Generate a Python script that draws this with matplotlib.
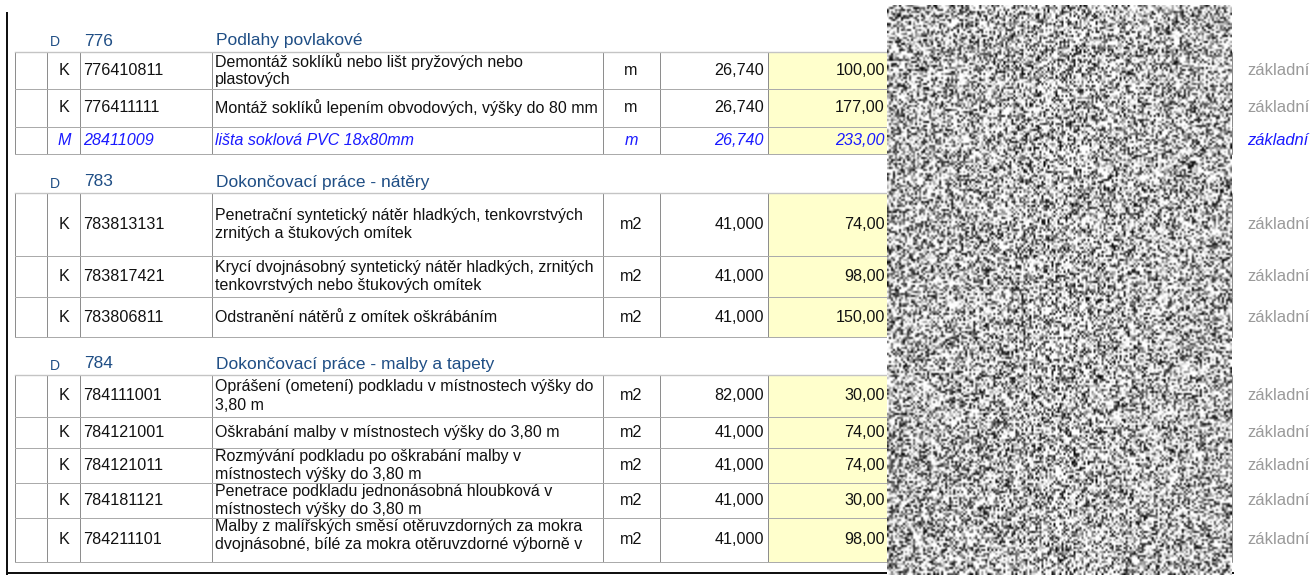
import matplotlib
matplotlib.use("Agg")
import matplotlib.pyplot as plt
import numpy as np
from matplotlib.patches import Rectangle

plt.rcParams["font.family"] = ["Liberation Sans", "DejaVu Sans"]

# ---- data ----
section_codes = ["776", "783", "784"]
section_titles = ["Podlahy povlakové", "Dokončovací práce - nátěry",
                  "Dokončovací práce - malby a tapety"]
row_section = [0, 0, 0, 1, 1, 1, 2, 2, 2, 2, 2]
row_types = ["K", "K", "M", "K", "K", "K", "K", "K", "K", "K", "K"]
row_codes = ["776410811", "776411111", "28411009", "783813131", "783817421",
             "783806811", "784111001", "784121001", "784121011", "784181121",
             "784211101"]
row_descriptions = [
    "Demontáž soklíků nebo lišt pryžových nebo\nplastových",
    "Montáž soklíků lepením obvodových, výšky do 80 mm",
    "lišta soklová PVC 18x80mm",
    "Penetrační syntetický nátěr hladkých, tenkovrstvých\nzrnitých a štukových omítek",
    "Krycí dvojnásobný syntetický nátěr hladkých, zrnitých\ntenkovrstvých nebo štukových omítek",
    "Odstranění nátěrů z omítek oškrábáním",
    "Oprášení (ometení) podkladu v místnostech výšky do\n3,80 m",
    "Oškrabání malby v místnostech výšky do 3,80 m",
    "Rozmývání podkladu po oškrabání malby v\nmístnostech výšky do 3,80 m",
    "Penetrace podkladu jednonásobná hloubková v\nmístnostech výšky do 3,80 m",
    "Malby z malířských směsí otěruvzdorných za mokra\ndvojnásobné, bílé za mokra otěruvzdorné výborně v",
]
row_units = ["m", "m", "m", "m2", "m2", "m2", "m2", "m2", "m2", "m2", "m2"]
row_quantities = [26.740, 26.740, 26.740, 41.0, 41.0, 41.0, 82.0, 41.0, 41.0, 41.0, 41.0]
row_prices = [100, 177, 233, 74, 98, 150, 30, 74, 74, 30, 98]
row_price_level = ["základní"] * 11

# ---- layout (pixels) ----
W, H = 1312, 575
header_y = [41, 182, 364]
row_edges = [(52, 89), (89, 127), (127, 154),
             (193, 256), (256, 297), (297, 337),
             (375, 417), (417, 448), (448, 483), (483, 518), (518, 562)]
col_x = [15, 47, 80, 212, 603, 660, 768, 1232]
noise_x0, noise_x1, noise_y0 = 887, 1232, 5

BLACK = "#111111"
HEAD = "#1f4e85"
ITAL = "#1a1aff"
GREY_TXT = "#9a9a9a"
VLINE = "#8e8e8e"
HLINE = "#ababab"
YELLOW = "#ffffcc"
FS = 11.6       # codes, numbers
FS_DESC = 11.5  # description column

fig = plt.figure(figsize=(W / 100, H / 100), dpi=100)
ax = fig.add_axes([0, 0, 1, 1])
ax.set_xlim(0, W)
ax.set_ylim(H, 0)
ax.axis("off")
px = 0.72  # one pixel in points


def fmt(v, nd):
    return f"{v:.{nd}f}".replace(".", ",")


# section headers
for code, title, y in zip(section_codes, section_titles, header_y):
    ax.text(50, y + 1.5, "D", fontsize=10, color=HEAD, va="center", ha="left")
    ax.text(84, y, code, fontsize=12.5, color=HEAD, va="center", ha="left")
    ax.text(216, y, title, fontsize=12.5, color=HEAD, va="center", ha="left")

# rows
for i, (top, bot) in enumerate(row_edges):
    yc = (top + bot) / 2
    is_m = row_types[i] == "M"
    color = ITAL if is_m else BLACK
    style = "italic" if is_m else "normal"
    ax.add_patch(Rectangle((col_x[6], top), col_x[7] - col_x[6], bot - top,
                           facecolor=YELLOW, edgecolor="none", zorder=0))
    ax.text(64, yc, row_types[i], fontsize=FS, color=color, style=style,
            ha="center", va="center")
    ax.text(83, yc, row_codes[i], fontsize=FS, color=color, style=style,
            ha="left", va="center")
    lines = row_descriptions[i].split("\n")
    clip = Rectangle((col_x[3], top), col_x[4] - col_x[3], bot - top,
                     transform=ax.transData, facecolor="none", edgecolor="none")
    for k, ln in enumerate(lines):
        ly = yc - 9 * (len(lines) - 1) + 18 * k
        if i == len(row_edges) - 1:
            ly -= 5
        t = ax.text(215, ly, ln, fontsize=FS_DESC, color=color, style=style,
                    ha="left", va="center")
        t.set_clip_path(clip)
    ax.text(631, yc, row_units[i], fontsize=FS, color=color, style=style,
            ha="center", va="center")
    ax.text(764, yc, fmt(row_quantities[i], 3), fontsize=FS, color=color,
            style=style, ha="right", va="center")
    ax.text(885, yc, fmt(row_prices[i], 2), fontsize=FS, color=color,
            style=style, ha="right", va="center")
    ax.text(1247, yc, row_price_level[i], fontsize=FS + 0.3,
            color=ITAL if is_m else GREY_TXT, style=style, ha="left", va="center")

# grid lines per section
for s in range(len(section_codes)):
    rows = [r for r, sec in zip(row_edges, row_section) if sec == s]
    top, bot = rows[0][0], rows[-1][1]
    for x in col_x:
        ax.plot([x, x], [top, bot], color=VLINE, lw=px, zorder=2)
    ax.plot([col_x[0], col_x[-1]], [top, top], color="#c4c4c4", lw=1.4 * px, zorder=2)
    for r in rows:
        ax.plot([col_x[0], col_x[-1]], [r[1], r[1]], color=HLINE, lw=px, zorder=2)

# outer frame (left + bottom)
ax.plot([7, 7], [13, 574], color=BLACK, lw=2 * px, zorder=3)
ax.plot([7, 1233], [573, 573], color=BLACK, lw=2 * px, zorder=3)

# redaction texture over the hidden columns (decoration, not data)
rng = np.random.default_rng(7)
tex = rng.random(((H - noise_y0) // 2, (noise_x1 - noise_x0) // 2))
tex = np.clip(1.6 * tex, 0, 1)
ax.imshow(tex, cmap="gray", vmin=0, vmax=1, interpolation="bilinear",
          extent=[noise_x0, noise_x1, H, noise_y0], aspect="auto", zorder=5)
ax.set_xlim(0, W)
ax.set_ylim(H, 0)

fig.savefig("out.png", dpi=100)
